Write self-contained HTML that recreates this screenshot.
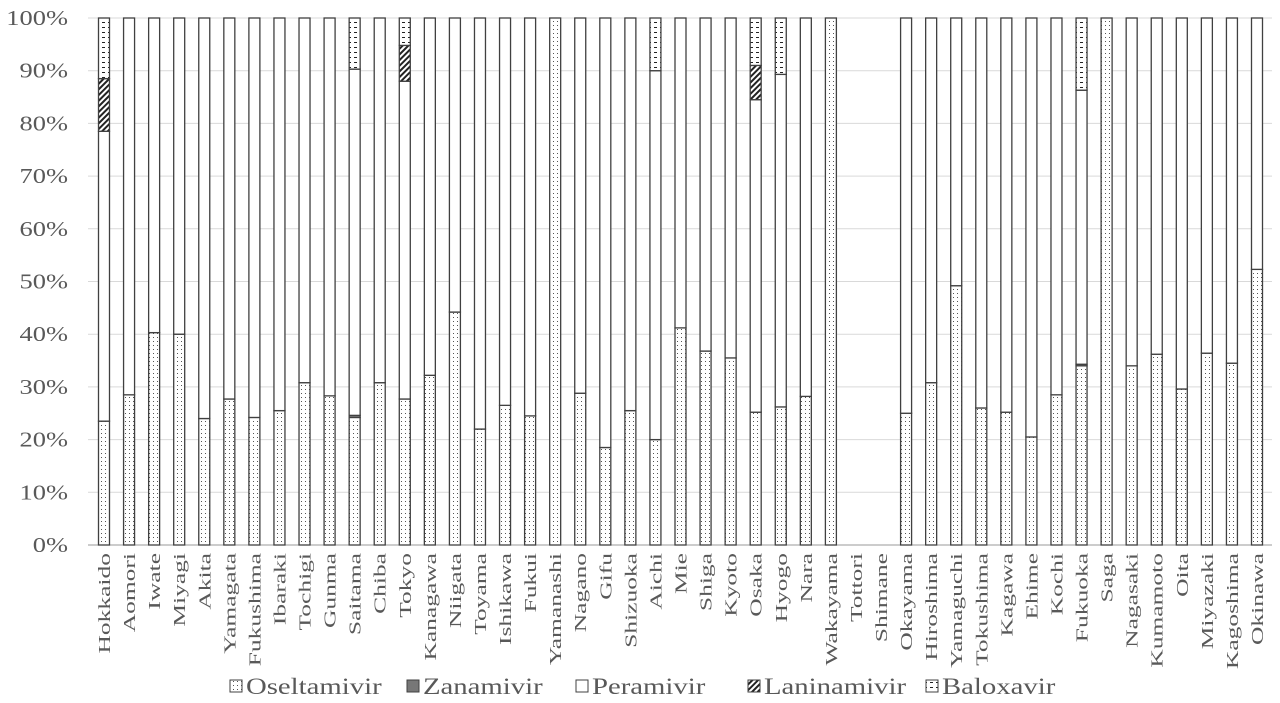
<!DOCTYPE html>
<html><head><meta charset="utf-8"><style>
html,body{margin:0;padding:0;background:#fff;}
svg{display:block;font-family:"Liberation Serif",serif;}
</style></head><body>
<svg id="c" width="1280" height="703" viewBox="0 0 1280 703">
<defs>
<pattern id="pOsel" width="4" height="4" patternUnits="userSpaceOnUse"><rect width="4" height="4" fill="#fff"/><rect x="1" y="1" width="1" height="1" fill="#555"/></pattern>
<pattern id="pLan" width="4" height="4" patternUnits="userSpaceOnUse" patternTransform="rotate(45)"><rect width="4" height="4" fill="#fff"/><rect width="2" height="4" fill="#222"/></pattern>
<pattern id="pBal" width="6" height="5" patternUnits="userSpaceOnUse"><rect width="6" height="5" fill="#fff"/><rect x="0" y="2" width="3" height="1" fill="#222"/></pattern>
</defs>
<g id="grid"></g><g id="bars"></g><g id="xl"></g><g id="yl"></g><g id="legend"></g>
</svg>
<script>
const categories=["Hokkaido","Aomori","Iwate","Miyagi","Akita","Yamagata","Fukushima","Ibaraki","Tochigi","Gunma","Saitama","Chiba","Tokyo","Kanagawa","Niigata","Toyama","Ishikawa","Fukui","Yamanashi","Nagano","Gifu","Shizuoka","Aichi","Mie","Shiga","Kyoto","Osaka","Hyogo","Nara","Wakayama","Tottori","Shimane","Okayama","Hiroshima","Yamaguchi","Tokushima","Kagawa","Ehime","Kochi","Fukuoka","Saga","Nagasaki","Kumamoto","Oita","Miyazaki","Kagoshima","Okinawa"];
const oseltamivir=[23.5,28.5,40.3,40,24,27.7,24.2,25.5,30.8,28.3,24.2,30.8,27.7,32.2,44.2,22,26.5,24.5,100,28.8,18.5,25.5,20,41.2,36.8,35.5,25.2,26.2,28.2,100,0,0,25,30.8,49.2,26,25.2,20.5,28.5,34,100,34,36.2,29.6,36.4,34.5,52.3];
const zanamivir=[0,0,0,0,0,0,0,0,0,0,0.4,0,0,0,0,0,0,0,0,0,0,0,0,0,0,0,0,0,0,0,0,0,0,0,0,0,0,0,0,0.3,0,0,0,0,0,0,0];
const laninamivir=[10,0,0,0,0,0,0,0,0,0,0,0,6.8,0,0,0,0,0,0,0,0,0,0,0,0,0,6.5,0,0,0,0,0,0,0,0,0,0,0,0,0,0,0,0,0,0,0,0];
const baloxavir=[11.5,0,0,0,0,0,0,0,0,0,9.7,0,5.2,0,0,0,0,0,0,0,0,0,10,0,0,0,9,10.7,0,0,0,0,0,0,0,0,0,0,0,13.7,0,0,0,0,0,0,0];
const yTicks=["0%","10%","20%","30%","40%","50%","60%","70%","80%","90%","100%"];
const seriesNames=["Oseltamivir","Zanamivir","Peramivir","Laninamivir","Baloxavir"];
const NS="http://www.w3.org/2000/svg";
const x0=104,x1=1257,yB=545,yT=18,bw=11;
const xS=i=>x0+i*(x1-x0)/(categories.length-1);
const yS=v=>yB-(yB-yT)*v/100;
function mk(t,a,p){const e=document.createElementNS(NS,t);for(const k in a)e.setAttribute(k,a[k]);p.appendChild(e);return e;}
const grid=document.getElementById('grid'),yl=document.getElementById('yl');
yTicks.forEach((t,i)=>{const v=i*10;
const l=mk('line',{x1:88,x2:1272,y1:yS(v),y2:yS(v),stroke:i==0?'#999':'#d9d9d9','stroke-width':1},grid);


const tx=mk('text',{x:0,y:0,'text-anchor':'end','font-size':21,fill:'#595959',transform:`translate(68,${yS(v)+7}) scale(1.26,1)`},yl);tx.textContent=t;

});
const fills=['url(#pOsel)','#777','#fff','url(#pLan)','url(#pBal)'];
const bars=document.getElementById('bars'),xl=document.getElementById('xl');
categories.forEach((c,i)=>{
const tot=oseltamivir[i]+zanamivir[i]+laninamivir[i]+baloxavir[i];
const pera=tot>0?Math.max(0,100-tot):0;
const vals=[oseltamivir[i],zanamivir[i],pera,laninamivir[i],baloxavir[i]];
let acc=0;
vals.forEach((v,s)=>{if(v<=0)return;
const r=mk('rect',{x:xS(i)-bw/2,y:yS(acc+v),width:bw,height:yS(acc)-yS(acc+v),fill:fills[s],stroke:'#404040','stroke-width':1.3},bars);


acc+=v;});
const t=mk('text',{x:0,y:0,'text-anchor':'end','font-size':17,fill:'#595959',transform:`translate(${xS(i)+6},553) rotate(-90) scale(1.5,1)`},xl);t.textContent=c;


});
const lg=document.getElementById('legend');
const lx=[230,407,576,748,926];
seriesNames.forEach((n,s)=>{
const g=mk('g',{},lg);


mk('rect',{x:lx[s],y:680,width:12,height:12,fill:fills[s],stroke:'#404040','stroke-width':1},g);
const t=mk('text',{x:0,y:0,'font-size':23,fill:'#595959',transform:`translate(${lx[s]+16},694) scale(1.25,1)`},g);t.textContent=n;
});
</script>
</body></html>
